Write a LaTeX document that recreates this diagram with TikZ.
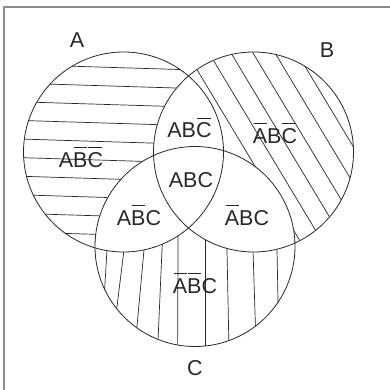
\documentclass[tikz,border=0pt]{standalone}
\usepackage{fontspec}
\setmainfont{Liberation Sans}
\usepackage{xcolor}
\usepackage{tikz}
\usetikzlibrary{calc}
\definecolor{framegray}{RGB}{140,140,140}
\definecolor{inkgray}{RGB}{40,40,40}
\newsavebox{\ovbox}
\newcommand{\ov}[1]{\sbox{\ovbox}{#1}\vbox{\offinterlineskip\hbox{\kern0.7pt\vrule height 0.8pt depth 0pt width \dimexpr\wd\ovbox-1.4pt\relax\kern0.7pt}\kern 4.5pt\copy\ovbox}}

\begin{document}
\begin{tikzpicture}[x=1pt,y=-1pt,
    ring/.style={draw=inkgray,line width=0.8pt},
    hatch/.style={draw=inkgray,line width=0.7pt},
    lbl/.style={inner sep=0pt,anchor=base,text=inkgray,font=\fontsize{21.5}{25}\selectfont}]
    \useasboundingbox (0,0) rectangle (390,390);
    \draw[framegray,line width=2pt] (3.5,390) -- (3.5,7) -- (390,7);

    \coordinate (ca) at (123.5,152);
    \coordinate (cb) at (253.5,152);
    \coordinate (cc) at (195,246.5);

    \begin{scope}
      \clip (ca) circle [radius=100pt];
      \foreach \k in {0,...,10}
        \draw[hatch] (0,{64+18.6*\k}) -- (260,{72+18.6*\k});
      \fill[white] (cb) circle [radius=100pt] (cc) circle [radius=100pt];
    \end{scope}
    \begin{scope}
      \clip (cb) circle [radius=100pt];
      \foreach \k in {-8,...,8}
        \draw[hatch] ({253+22*\k-0.515*300},{53-0.857*300}) -- ({253+22*\k+0.515*300},{53+0.857*300});
      \fill[white] (ca) circle [radius=100pt] (cc) circle [radius=100pt];
    \end{scope}
    \begin{scope}
      \clip (cc) circle [radius=100pt];
      \foreach \x/\d in {107/-15,124/-31,144/-23,162/-11,178/-1,205/0,227/5,253/8,277/5}
        \draw[hatch] ({\x-0.6*\d},100) -- ({\x+0.6*\d},400);
      \fill[white] (ca) circle [radius=100pt] (cb) circle [radius=100pt];
    \end{scope}

    \draw[ring] (ca) circle [radius=100pt];
    \draw[ring] (cb) circle [radius=100pt];
    \draw[ring] (cc) circle [radius=100pt];

    \node[lbl] (setA) at (77,48) {A};
    \node[lbl] (setB) at (327,58) {B};
    \node[lbl] (setC) at (195,375) {C};

    \node[lbl] (onlyA) at (81,167) {A\ov{B}\ov{C}};
    \node[lbl] (onlyB) at (275,143) {\ov{A}B\ov{C}};
    \node[lbl] (onlyC) at (195,293) {\ov{A}\ov{B}C};
    \node[lbl] (ab) at (189.5,138) {AB\ov{C}};
    \node[lbl] (abc) at (191,187) {ABC};
    \node[lbl] (ac) at (139,225) {A\ov{B}C};
    \node[lbl] (bc) at (247,225) {\ov{A}BC};
  \end{tikzpicture}
\end{document}
